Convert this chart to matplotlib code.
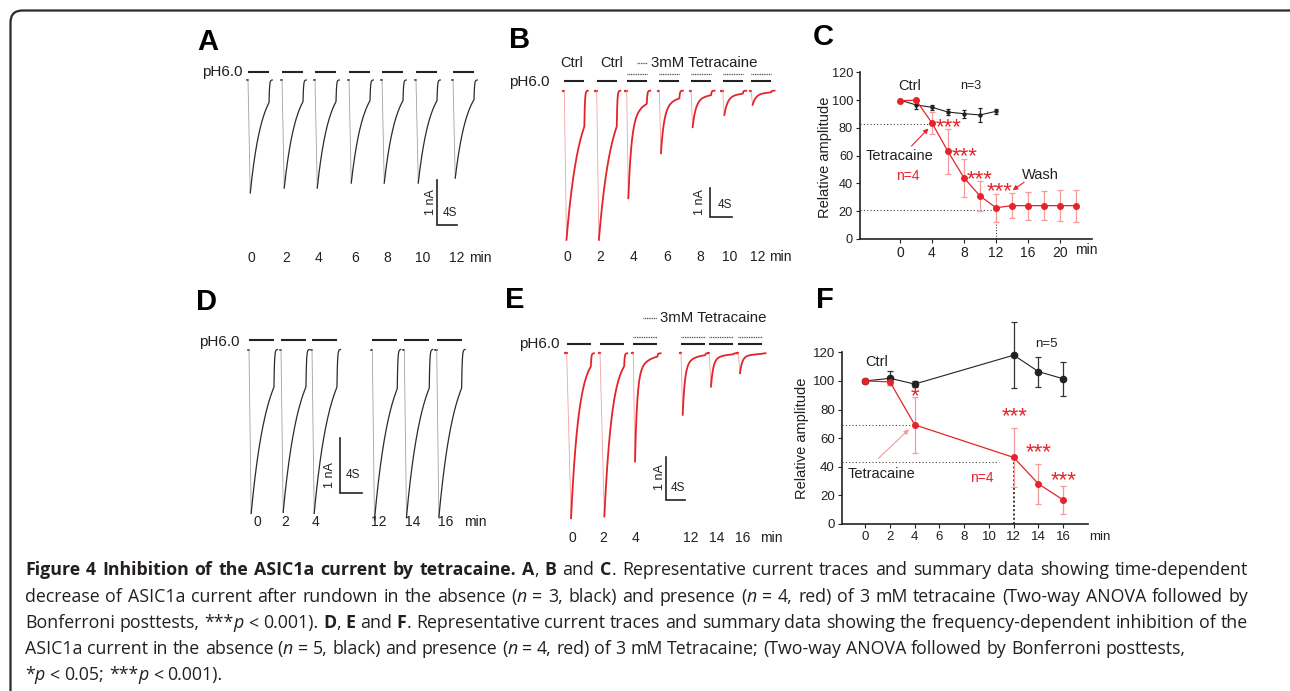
import re
import numpy as np
import matplotlib
matplotlib.use('Agg')
import matplotlib.pyplot as plt
from matplotlib.patches import FancyBboxPatch

W, H = 1290, 691
plt.rcParams['font.family'] = ['Liberation Sans', 'DejaVu Sans']

RED = '#e3242b'
LRED = '#f39a9c'
INK = '#231f20'

# ---------------- data ----------------
# Representative traces: peak current (nA) of each pH6.0 response
a_times = [0, 2, 4, 6, 8, 10, 12]
a_peaks = [2.51, 2.40, 2.40, 2.29, 2.29, 2.29, 2.18]

b_times = [0, 2, 4, 6, 8, 10, 12]
b_peaks = [5.27, 5.27, 3.80, 2.21, 1.29, 0.86, 0.50]
b_drug = [False, False, True, True, True, True, True]

d_times = [0, 2, 4, 12, 14, 16]
d_peaks = [2.98, 2.96, 2.98, 3.10, 3.05, 3.05]

e_times = [0, 2, 4, 12, 14, 16]
e_peaks = [3.81, 3.77, 2.50, 1.42, 0.77, 0.46]
e_drug = [False, False, True, True, True, True]

# Summary C (time-dependent)
c_ctrl_x = [0, 2, 4, 6, 8, 10, 12]
c_ctrl_y = [100, 96.5, 94.8, 91.4, 90.2, 89.3, 91.9]
c_ctrl_err = [0, 3, 2, 2, 3, 5, 2]
c_tet_x = [0, 2, 4, 6, 8, 10, 12, 14, 16, 18, 20, 22]
c_tet_y = [99.5, 100, 83.5, 63, 44, 31, 22.5, 24, 24, 24, 24, 24]
c_tet_err = [0, 0, 8, 16, 13.5, 10.5, 10, 9, 10, 10.5, 11, 11.5]
c_xticks = [0, 4, 8, 12, 16, 20]
c_yticks = [0, 20, 40, 60, 80, 100, 120]

# Summary F (frequency-dependent)
f_ctrl_x = [0, 2, 4, 12, 14, 16]
f_ctrl_y = [100, 101.8, 97.8, 118, 106.5, 101.5]
f_ctrl_err = [0, 5, 2, 23, 10.5, 12]
f_tet_x = [0, 2, 4, 12, 14, 16]
f_tet_y = [100, 99.3, 69.3, 46.5, 28, 16.8]
f_tet_err = [0, 2, 19.5, 20.5, 14, 10]
f_xticks = [0, 2, 4, 6, 8, 10, 12, 14, 16]
f_yticks = [0, 20, 40, 60, 80, 100, 120]

# ---------------- figure ----------------
fig = plt.figure(figsize=(W / 100, H / 100), dpi=100)
bg = fig.add_axes([0, 0, 1, 1])
bg.set_xlim(0, W)
bg.set_ylim(H, 0)
bg.axis('off')
bg.set_zorder(-5)
bg.add_patch(FancyBboxPatch((10.5, 10.5), 1300, 700,
                            boxstyle='round,pad=0,rounding_size=12',
                            lw=1.6, ec='#2a2a2a', fc='none'))


def ftext(x, y, s, **kw):
    kw.setdefault('ha', 'center')
    kw.setdefault('va', 'center')
    kw.setdefault('color', INK)
    return fig.text(x / W, 1 - y / H, s, **kw)


for lab, (x, y) in zip('ABCDEF', [(208, 42), (520, 40), (823, 37),
                                  (207, 302), (515, 300), (825, 300)]):
    ftext(x, y, lab, fontsize=21, fontweight='bold', color='black')


# ---------------- trace panels ----------------
def trace_axes(box, ox, oy, sx, sy):
    l, t, r, b = box
    ax = fig.add_axes([l / W, 1 - b / H, (r - l) / W, (b - t) / H])
    ax.set_xlim((l - ox) / sx, (r - ox) / sx)
    ax.set_ylim((oy - b) / sy, (oy - t) / sy)
    ax.axis('off')
    return ax


def response(peak, dur, tp, res, fast=0.0, tau_f=1.0, t_off=0.1):
    tr = np.linspace(0, tp, 12)
    rise = -peak * tr / tp
    td = np.linspace(tp, dur, 200)
    tau_s = (dur - tp) / np.log((1 - fast) / res)
    dec = -peak * (fast * np.exp(-(td - tp) / tau_f)
                   + (1 - fast) * np.exp(-(td - tp) / tau_s))
    to = np.linspace(dur, dur + 0.45, 40)
    off = dec[-1] * np.exp(-(to - dur) / t_off)
    tm = np.concatenate([td, to, [dur + 0.65]])
    im = np.concatenate([dec, off, [0]])
    return (tr, rise), (tm, im)


def draw_panel(ax, onsets_px, ox, sx, sy, peaks, drug, kin_c, kin_d, dur,
               color, light, lw, bar_px, dot_px, scale_px, oy):
    for i, (op, pk) in enumerate(zip(onsets_px, peaks)):
        t0 = (op - ox) / sx
        kin = kin_d if (drug is not None and drug[i]) else kin_c
        (tr, ir), (tm, im) = response(pk, dur, **kin)
        ax.plot([t0 - 0.25, t0], [0, 0], color=color, lw=lw + 0.4,
                solid_capstyle='round')
        ax.plot(tr + t0, ir, color=light, lw=0.6)
        ax.plot(tm + t0, im, color=color, lw=lw)
        ax.hlines(bar_px / sy, t0, t0 + dur, color='#222', lw=1.5)
        if drug is not None and drug[i]:
            ax.hlines(dot_px / sy, t0, t0 + dur, color='#333', lw=0.9,
                      linestyles=(0, (0.7, 0.7)))
    cx, cy = scale_px
    tc, ic = (cx - ox) / sx, (oy - cy) / sy
    ax.plot([tc, tc, tc + 4], [ic + 1, ic, ic], color='#222', lw=1.2,
            solid_joinstyle='miter')


def time_labels(times, xs, y, minx):
    for t, x in zip(times, xs):
        ftext(x, y, str(t), fontsize=10)
    ftext(minx, y, 'min', fontsize=10)


PH = 11

# Panel A
axA = trace_axes((240, 55, 485, 240), 248, 80, 5.0, 45)
draw_panel(axA, [248, 282, 315, 349, 382, 416, 453], 248, 5.0, 45,
           a_peaks, None, dict(tp=0.45, res=0.2), None, 4.2,
           '#2b2b2b', '#a0a0a0', 0.9, 7.7, 0, (436.7, 225), 80)
ftext(243, 72, 'pH6.0', fontsize=PH, ha='right')
ftext(431, 202, '1 nA', fontsize=9, rotation=90)
ftext(450, 213, '4S', fontsize=8.5)
time_labels(a_times, [251.7, 286, 318.3, 355, 387.3, 422.7, 456.5], 258, 480)

# Panel B
axB = trace_axes((555, 55, 795, 250), 564.3, 90.7, 5.42, 28.3)
draw_panel(axB, [564.3, 596.7, 626.7, 659.3, 691, 722.7, 751], 564.3, 5.42,
           28.3, b_peaks, b_drug, dict(tp=0.4, res=0.24),
           dict(tp=0.3, res=0.12, fast=0.75, tau_f=0.6), 3.7,
           RED, '#f4a0a2', 1.3, 9.7, 16.4, (710, 216.7), 90.7)
ftext(550, 82, 'pH6.0', fontsize=PH, ha='right')
ftext(571.7, 63.3, 'Ctrl', fontsize=10.5)
ftext(611.7, 63.3, 'Ctrl', fontsize=10.5)
fig.add_artist(plt.Line2D([636.7 / W, 646.7 / W], [1 - 63.3 / H] * 2,
                          color='#333', lw=0.9, ls=(0, (0.7, 0.7))))
ftext(651, 63.3, '3mM Tetracaine', fontsize=10.8, ha='left')
ftext(700, 202, '1 nA', fontsize=9, rotation=90)
ftext(725, 205, '4S', fontsize=8.5)
time_labels(b_times, [567.7, 600, 633.3, 666.7, 700, 730, 757.5], 257.3, 780)

# Panel D
axD = trace_axes((240, 330, 480, 525), 249, 349.5, 5.42, 55)
draw_panel(axD, [249, 281, 312, 372.3, 404.3, 436.7], 249, 5.42, 55,
           d_peaks, None, dict(tp=0.4, res=0.23), None, 4.6,
           '#2b2b2b', '#a0a0a0', 0.9, 10, 0, (340, 493.3), 349.5)
ftext(240, 342, 'pH6.0', fontsize=PH, ha='right')
ftext(330, 475, '1 nA', fontsize=9, rotation=90)
ftext(353.3, 475, '4S', fontsize=8.5)
time_labels(d_times, [257, 285, 316, 379, 413, 446], 522, 475)

# Panel E
axE = trace_axes((558, 325, 800, 530), 566.7, 353.3, 4.83, 43.3)
draw_panel(axE, [566.7, 600, 633.3, 681, 709.3, 738.3], 566.7, 4.83, 43.3,
           e_peaks, e_drug, dict(tp=0.9, res=0.08),
           dict(tp=0.35, res=0.03, fast=0.8, tau_f=0.45), 5.0,
           RED, '#f4a0a2', 1.3, 9.3, 16.6, (665.7, 500), 353.3)
ftext(560, 344, 'pH6.0', fontsize=PH, ha='right')
fig.add_artist(plt.Line2D([643.3 / W, 656.7 / W], [1 - 318.3 / H] * 2,
                          color='#333', lw=0.9, ls=(0, (0.7, 0.7))))
ftext(660, 318.3, '3mM Tetracaine', fontsize=10.8, ha='left')
ftext(660, 477, '1 nA', fontsize=9, rotation=90)
ftext(678.3, 488.3, '4S', fontsize=8.5)
time_labels(e_times, [572, 603, 635, 691, 717, 743], 538, 771)


# ---------------- summary panels ----------------
def style_axes(ax, xticks, yticks, xsize, ysize):
    for s in ('top', 'right'):
        ax.spines[s].set_visible(False)
    for s in ('left', 'bottom'):
        ax.spines[s].set_linewidth(1.2)
        ax.spines[s].set_color('#222')
    ax.set_xticks(xticks)
    ax.set_yticks(yticks)
    ax.tick_params(length=3, width=0.8, pad=2, colors='#222',
                   labelcolor=INK)
    ax.tick_params(axis='x', labelsize=xsize)
    ax.tick_params(axis='y', labelsize=ysize)
    ax.patch.set_alpha(0)


def err(ax, x, y, e, color, ecolor, ms, lw, cap):
    cont = ax.errorbar(x, y, yerr=e, color=color, ecolor=ecolor, lw=lw,
                       elinewidth=0.9, marker='o', ms=ms, capsize=cap,
                       capthick=0.9, mec=color, mfc=color)
    for art in cont.get_children():
        art.set_clip_on(False)


def stars(ax, x, y, s='***', size=16):
    ax.text(x, y, s, color=RED, fontsize=size, ha='center', va='center')


# Panel C
axC = fig.add_axes([860 / W, 1 - 239 / H, 232 / W, (239 - 72.3) / H])
axC.set_xlim(-5, 24)
axC.set_ylim(0, 120)
style_axes(axC, c_xticks, c_yticks, 10, 9.2)
axC.hlines(83, -5, 3.8, color='#444', lw=0.8, linestyles=(0, (1, 2)))
axC.hlines(21, -5, 12, color='#444', lw=0.8, linestyles=(0, (1, 2)))
axC.vlines(12, 0, 22, color='#444', lw=0.8, linestyles=(0, (1, 1.5)))
err(axC, c_ctrl_x, c_ctrl_y, c_ctrl_err, '#222', '#222', 2.2, 0.8, 1.5)
err(axC, c_tet_x, c_tet_y, c_tet_err, RED, LRED, 4, 0.9, 2)
axC.text(1.2, 110, 'Ctrl', fontsize=10.5, ha='center', va='center', color=INK)
axC.text(8.9, 110, 'n=3', fontsize=9, ha='center', va='center', color=INK)
axC.text(0, 60, 'Tetracaine', fontsize=10.5, ha='center', va='center', color=INK)
axC.text(1, 45, 'n=4', fontsize=10, ha='center', va='center', color=RED)
axC.text(17.6, 46, 'Wash', fontsize=10.5, ha='center', va='center', color=INK)
axC.annotate('', xy=(3.8, 81), xytext=(1.2, 65.5),
             arrowprops=dict(arrowstyle='-|>', color=RED, lw=0.8,
                             mutation_scale=7))
axC.annotate('', xy=(13.8, 34), xytext=(15.8, 42),
             arrowprops=dict(arrowstyle='-|>', color=RED, lw=0.8,
                             mutation_scale=7))
for x, y in [(6.1, 80), (8.1, 59), (9.9, 43), (12.4, 34)]:
    stars(axC, x, y)
ftext(825, 157, 'Relative amplitude', fontsize=10.5, rotation=90)
ftext(1086, 250, 'min', fontsize=10)

# Panel F
axF = fig.add_axes([841.7 / W, 1 - 524 / H, 246.3 / W, (524 - 352.3) / H])
axF.set_xlim(-1.9, 18)
axF.set_ylim(0, 120)
style_axes(axF, f_xticks, f_yticks, 9.5, 9.5)
axF.hlines(69, -1.9, 3.8, color='#444', lw=0.8, linestyles=(0, (1, 2)))
axF.hlines(43.6, -1.9, 10.8, color='#444', lw=0.8, linestyles=(0, (1, 2)))
axF.vlines(12, 0, 46, color='#333', lw=1.4, linestyles=(0, (1, 1.2)))
err(axF, f_ctrl_x, f_ctrl_y, f_ctrl_err, '#222', '#333', 4.5, 0.8, 2)
err(axF, f_tet_x, f_tet_y, f_tet_err, RED, LRED, 4, 0.9, 2)
axF.text(0.9, 113, 'Ctrl', fontsize=10.5, ha='center', va='center', color=INK)
axF.text(14.6, 125.6, 'n=5', fontsize=9.5, ha='center', va='center', color=INK)
axF.text(1.35, 34.7, 'Tetracaine', fontsize=10.5, ha='center', va='center',
         color=INK)
axF.text(9.4, 32, 'n=4', fontsize=10, ha='center', va='center', color=RED)
axF.annotate('', xy=(3.7, 67.5), xytext=(0.9, 44.5),
             arrowprops=dict(arrowstyle='-|>', color=LRED, lw=0.8,
                             mutation_scale=7))
stars(axF, 4, 89, '*')
for x, y in [(12.1, 75), (14.0, 50), (16.0, 30)]:
    stars(axF, x, y)
ftext(801.7, 438, 'Relative amplitude', fontsize=10.5, rotation=90)
ftext(1100, 537, 'min', fontsize=9.5)

# ---------------- caption ----------------
B, N, I = 'bold', 'normal', 'italic'
caption = [
    (575, True, [("Figure 4 Inhibition of the ASIC1a current by tetracaine. ", B),
                 ("A", B), (", ", N), ("B", B), (" and ", N), ("C", B),
                 (". Representative current traces and summary data showing time-dependent", N)]),
    (601.7, True, [("decrease of ASIC1a current after rundown in the absence (", N),
                   ("n", I), (" = 3, black) and presence (", N), ("n", I),
                   (" = 4, red) of 3 mM tetracaine (Two-way ANOVA followed by", N)]),
    (627.7, True, [("Bonferroni posttests, ***", N), ("p", I), (" < 0.001). ", N),
                   ("D", B), (", ", N), ("E", B), (" and ", N), ("F", B),
                   (". Representative current traces and summary data showing the frequency-dependent inhibition of the", N)]),
    (654, False, [("ASIC1a current in the absence (", N), ("n", I),
                  (" = 5, black) and presence (", N), ("n", I),
                  (" = 4, red) of 3 mM Tetracaine; (Two-way ANOVA followed by Bonferroni posttests,", N)]),
    (680, False, [("*", N), ("p", I), (" < 0.05; ***", N), ("p", I), (" < 0.001).", N)]),
]

renderer = fig.canvas.get_renderer()
_cache = {}
CAP_SIZE = 12.75


def font_kw(kind):
    return dict(fontsize=CAP_SIZE, family=['Open Sans', 'DejaVu Sans'],
                fontweight='bold' if kind == B else 'normal',
                fontstyle='italic' if kind == I else 'normal')


def tok_width(s, kind):
    key = (s, kind)
    if key not in _cache:
        kw = font_kw(kind)
        t1 = fig.text(0, 0, s + '|', **kw)
        t2 = fig.text(0, 0, '|', **kw)
        _cache[key] = (t1.get_window_extent(renderer).width
                       - t2.get_window_extent(renderer).width)
        t1.remove()
        t2.remove()
    return _cache[key]


def tokens(segs):
    out = []
    for s, k in segs:
        for tok in re.findall(r' +|[^ ]+', s):
            out.append((tok, k, tok.startswith(' ')))
    return out


X0, XR = 25, 1248
for y, justify, segs in caption:
    toks = tokens(segs)
    nat = sum(tok_width(t, k) for t, k, sp in toks)
    nsp = sum(len(t) for t, k, sp in toks if sp)
    extra = (XR - X0 - nat) / nsp if (justify and nsp) else 0.0
    x = X0
    for t, k, sp in toks:
        w = tok_width(t, k)
        if sp:
            x += w + extra * len(t)
        else:
            fig.text(x / W, 1 - y / H, t, va='baseline', ha='left',
                     color=INK, **font_kw(k))
            x += w

fig.savefig('out.png', dpi=100)
